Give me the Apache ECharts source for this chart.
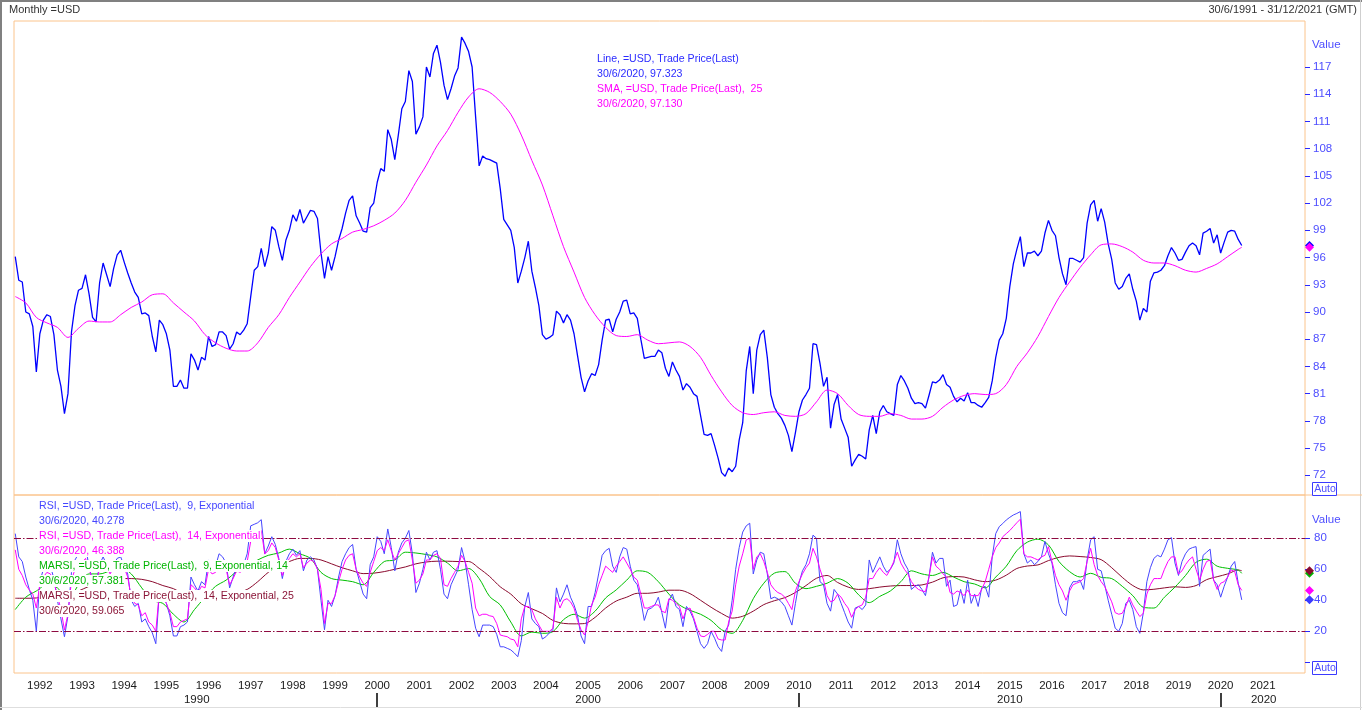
<!DOCTYPE html>
<html>
<head>
<meta charset="utf-8">
<title>Monthly =USD</title>
<script src="https://cdn.jsdelivr.net/npm/echarts@6/dist/echarts.min.js"></script>
<style>
  html, body { margin: 0; padding: 0; background: #fff; }
  #chart { width: 1362px; height: 710px; }
</style>
</head>
<body>
<div id="chart"></div>
<script>
// one value per month, first one plotted at the end of May 1991
const firstYear = 1991;
const firstMonth = 5;
const quarterStep = 3;

// =USD, Trade Price(Last), monthly
const usdLine = [
  96.1, 93.5, 93.3, 90.0, 89.8, 88.4, 83.4, 87.6,
  89.1, 89.7, 89.5, 87.5, 83.6, 81.8, 78.8, 81.0, 87.8, 90.7, 92.4, 92.6,
  94.1, 92.0, 89.4, 88.9, 93.2, 95.4, 94.1, 92.8, 94.8, 96.3, 96.8, 95.5,
  94.3, 93.2, 92.2, 91.6, 89.8, 89.9, 89.6, 87.3, 85.6, 89.1, 88.6, 87.6,
  85.8, 81.8, 81.8, 82.5, 81.6, 81.6, 85.4, 84.7, 83.6, 85.0, 84.7, 87.3,
  86.2, 86.4, 87.8, 87.8, 87.4, 85.9, 86.5, 87.8, 87.5, 88.0, 88.7, 91.7,
  94.6, 95.0, 97.0, 95.0, 96.5, 99.4, 99.0, 97.2, 95.7, 97.9, 99.0, 100.7,
  100.0, 101.3, 99.8, 100.5, 101.2, 101.1, 100.3, 96.5, 93.7, 96.1, 94.6, 96.1,
  97.9, 99.2, 100.9, 102.3, 102.8, 100.6, 99.8, 98.9, 98.8, 101.5, 102.0, 104.3,
  105.8, 105.5, 110.1, 109.0, 106.8, 109.5, 112.4, 113.2, 116.6, 115.4, 109.6, 110.4,
  111.5, 117.0, 115.9, 118.5, 119.4, 117.5, 115.0, 113.4, 114.6, 116.0, 116.9, 120.3,
  119.6, 118.7, 117.0, 111.5, 106.1, 107.2, 106.9, 106.8, 106.6, 106.4, 103.6, 100.2,
  99.6, 99.0, 97.1, 93.2, 94.5, 96.0, 97.8, 94.5, 92.7, 90.7, 87.5, 87.0,
  87.2, 87.5, 90.1, 89.7, 88.8, 89.7, 89.1, 87.6, 85.2, 82.8, 81.2, 82.4,
  83.2, 83.0, 84.2, 86.9, 89.1, 89.2, 87.8, 89.2, 90.0, 91.2, 91.3, 89.8,
  89.9, 89.3, 87.0, 84.9, 85.0, 85.1, 85.1, 85.8, 85.5, 83.8, 82.9, 84.5,
  83.6, 82.9, 81.4, 82.1, 81.7, 81.0, 80.7, 78.6, 76.5, 76.4, 76.6, 75.3,
  73.9, 72.3, 71.9, 72.8, 72.4, 73.0, 75.9, 77.8, 83.5, 86.2, 81.0, 85.8,
  87.5, 88.0, 85.0, 80.9, 79.5, 78.8, 78.3, 77.5, 76.4, 74.6, 76.7, 79.0,
  80.3, 80.9, 81.6, 86.5, 86.4, 84.3, 81.8, 82.8, 77.2, 79.8, 80.9, 78.2,
  77.2, 76.2, 73.0, 73.7, 74.3, 74.1, 73.8, 77.0, 78.6, 76.6, 79.0, 79.7,
  79.0, 78.8, 78.6, 82.0, 83.0, 82.4, 81.6, 80.5, 79.9, 80.0, 79.9, 79.4,
  80.8, 82.3, 82.2, 82.5, 83.1, 82.0, 81.7, 80.7, 80.1, 80.5, 80.2, 81.1,
  80.0, 80.0, 79.7, 79.5, 80.0, 80.6, 82.4, 85.0, 86.9, 87.6, 89.3, 92.8,
  95.3, 96.9, 98.3, 95.0, 96.5, 96.5, 96.7, 96.2, 96.7, 98.7, 100.1, 99.0,
  98.4, 96.0, 94.2, 93.0, 95.9, 95.9, 95.7, 95.5, 96.0, 99.8, 101.8, 102.3,
  100.0, 101.4, 99.9, 97.5, 95.8, 93.2, 92.5, 92.8, 93.7, 94.2, 92.5, 91.2,
  89.1, 90.4, 90.0, 93.4, 94.3, 94.4, 94.6, 95.1, 96.2, 97.1, 96.5, 95.7,
  95.8, 96.6, 97.3, 97.6, 97.3, 96.3, 98.7, 98.9, 99.2, 97.6, 98.5, 96.5,
  97.7, 98.8, 99.0, 98.9, 98.0, 97.323
];

// SMA 25, read every third month
const smaQuarterly = [
  91.7, 91.0, 89.4, 88.8, 88.3, 87.2, 88.2, 89.0, 88.9, 88.9, 89.7, 90.5,
  91.1, 91.9, 92.0, 91.0, 90.0, 89.0, 87.5, 86.6, 86.0, 85.7, 85.7, 86.6,
  88.3, 89.7, 91.6, 93.3, 95.0, 96.4, 97.5, 98.1, 98.8, 99.1, 99.5, 100.1,
  100.9, 102.3, 104.3, 106.2, 108.3, 110.0, 112.0, 113.7, 114.6, 114.2, 113.2, 111.8,
  109.5, 106.7, 104.0, 100.6, 97.2, 94.4, 91.6, 89.7, 88.3, 87.4, 87.3, 87.5,
  86.9, 86.5, 86.6, 86.7, 86.2, 85.0, 83.0, 81.2, 79.7, 78.9, 78.7, 78.9,
  79.0, 78.6, 78.5, 78.8, 80.1, 81.4, 81.0, 79.7, 78.7, 78.5, 78.5, 78.8,
  78.6, 78.2, 78.2, 78.5, 79.5, 80.3, 80.8, 81.0, 80.9, 81.0, 82.0, 84.0,
  85.5, 87.3, 89.5, 91.6, 93.3, 94.9, 96.3, 97.4, 97.5, 97.2, 96.6, 95.7,
  95.4, 95.4, 95.1, 94.6, 94.4, 94.8, 95.3, 96.1, 96.9
];
const smaLast = 97.130;

// RSI 9, exponential, monthly
const rsi9 = [
  83, 68, 65, 55, 47, 40, 20, 52, 60, 63,
  62, 54, 40, 28, 16.5, 30, 58, 66, 70, 70,
  74, 62, 52, 50, 63, 68, 63, 58, 63, 67,
  68, 62, 57, 40, 36, 38, 26, 28, 23, 19,
  12, 45, 43, 38, 30, 17, 17, 23, 24, 26,
  55, 50, 46, 52, 50, 66, 60, 62, 70, 68,
  64, 48, 55, 62, 60, 63, 70, 88, 89, 90,
  92, 70, 75, 81, 76, 67, 54, 65, 70, 73,
  69, 72, 59, 66, 68, 66, 60, 40, 21, 40,
  36, 43, 55, 65, 70, 74, 76, 60, 52, 44,
  41, 63, 68, 81, 78, 70, 86, 74, 59, 71,
  77, 80, 85, 70, 45, 51, 60, 71, 66, 71,
  72, 60, 44, 41, 50, 55, 60, 74, 65, 50,
  34, 22, 16.5, 24, 24, 24, 23, 18, 10, 10,
  9, 8, 6, 3.6, 14, 36, 45, 28, 25, 23,
  15, 16.5, 19, 21, 48, 39, 44, 50, 42, 37,
  30, 17, 12, 36, 36, 45, 57, 69, 72, 73.5,
  62, 58, 68, 74, 73, 62, 53, 50, 40, 27,
  34, 35, 37, 42, 32, 22, 40, 44, 36, 34,
  23, 36, 33, 28, 20, 12, 9, 12, 20, 15.5,
  10, 7, 20, 24, 40, 60, 74, 84, 88, 89.7,
  57, 66, 71, 70, 57, 41, 42, 41, 39, 36,
  30, 24, 38, 51, 59, 63, 70, 82, 80, 52,
  50, 38, 33, 47, 44, 38, 32, 26, 22, 35,
  36, 34, 37, 66, 58, 63, 68, 62, 58, 60,
  64, 79, 70, 64, 60, 47, 49, 50, 47, 43,
  55, 71, 64, 67, 67, 49, 53, 36, 37, 47,
  38, 53, 38, 44, 36, 48, 49, 42, 68, 83,
  87.5, 89.5, 91.8, 93.5, 95, 96, 97.2, 70, 64, 66,
  63, 65, 68, 78, 70, 64, 50, 38, 32, 30,
  48, 52, 52, 53, 47, 66, 79, 81, 60, 59,
  50, 40, 31, 22, 20, 25, 38, 40, 34, 23,
  18.7, 32, 52, 61, 67, 69, 68, 73, 79, 80.4,
  64, 56, 65, 70, 73, 74, 74.6, 49, 69, 71,
  73, 53, 50, 42, 49, 55, 62, 65, 51, 40.278
];

// RSI 14, exponential, monthly
const rsi14 = [
  72.5, 60, 56, 50, 46.7, 44, 35, 50, 55, 58,
  57, 52, 43, 34, 20.8, 31, 53, 60, 64, 64,
  67, 60, 53, 51, 60, 64, 61, 57, 61, 64,
  65, 61, 55, 42, 38, 37, 30, 32, 26, 24,
  20, 45, 42, 38, 32, 23, 23, 26, 27, 28,
  50, 48, 45, 49, 48, 60, 57, 58, 63, 62,
  60, 50, 54, 59, 58, 60, 65, 78, 81, 82,
  85, 70, 72, 77, 74, 66, 56, 63, 67, 70,
  68, 70, 61, 64, 66, 65, 60, 47, 25, 38,
  38, 43, 52, 60, 66, 69, 70, 60, 55, 51,
  49, 58, 65, 72, 74, 72, 79, 72, 66, 70,
  74, 78, 79, 66, 51, 53, 57, 66, 66, 69,
  70, 67, 50, 49, 54, 58, 62, 69, 65, 58,
  51, 35, 30, 31, 31, 30, 29.5, 25, 17.6, 17,
  16.5, 15, 14.4, 10, 28, 36, 36, 34, 28, 24,
  20, 20, 20, 22, 42, 35, 40, 41, 39, 35,
  27, 21, 17.6, 26, 37, 42, 50, 56, 62, 60,
  58, 62, 65, 68, 64, 60, 55, 53, 44, 35,
  35, 36, 37, 37, 33, 32, 41, 40, 38, 36,
  28, 34, 35, 29, 22, 17, 16.5, 18, 20, 20,
  15, 14.4, 14.4, 26, 33, 50, 62, 70, 79, 80,
  60, 68, 70, 65, 58, 50, 47, 45, 44, 42,
  38, 34, 46, 52, 57, 61, 64, 73.5, 68, 60,
  53, 43, 39, 40, 44, 42, 38, 35, 29, 34,
  36, 37, 42, 54, 54, 58, 61, 58, 56, 60,
  65, 71, 64, 60, 57, 52, 49, 47, 46, 45.6,
  55, 68, 62, 60, 57, 55, 45, 44, 46, 45,
  43, 46.7, 43, 43, 43, 47, 52, 60, 68, 74,
  77, 81, 83, 85, 87.5, 90, 92.3, 70, 68, 68,
  67, 66, 68, 69, 74.6, 65, 56, 50, 46, 40,
  46, 50, 51, 52, 54, 65, 73.5, 63, 56, 52,
  49, 44, 39, 32, 31, 31.6, 36, 42, 37, 33,
  29.5, 31.6, 44, 50, 54, 54, 54, 60, 65, 68,
  68, 57, 59, 63, 66, 68, 60, 53, 60, 65,
  66, 53, 47, 51, 52, 55, 59.6, 58.5, 50, 46.388
];

// MARSI 9/14, read every third month
const marsi9Quarterly = [
  34, 42, 46, 50, 48, 40, 50, 57, 57, 59, 61, 57,
  48, 40, 38, 31, 26, 34, 42, 49, 53, 58.5, 62, 66,
  69, 70.5, 73, 70, 67, 58, 54, 53, 52, 50, 58, 65,
  66, 71, 70.5, 69.5, 68, 64, 59, 60.5, 54, 42.4, 37, 26,
  17, 19.5, 18.7, 19.8, 27.5, 31, 28.5, 33, 41.5, 46.7, 53, 59,
  58, 52, 44, 37, 33.5, 31, 27, 21, 18.7, 27, 41, 51,
  57.5, 58.5, 51, 47.5, 49, 51, 54, 51, 43.5, 38.5, 42.5, 46,
  52, 59, 57, 56, 58, 55, 52, 50.5, 48, 55, 62, 72,
  77.5, 79.4, 75.7, 65, 58.5, 55, 57.4, 54.8, 54, 49, 43, 35.5,
  35, 42, 48.5, 56, 64.5, 66.5, 62, 60.6, 59.5
];
const marsi9Last = 57.381;

// MARSI 14/25, read every third month
const marsi14Quarterly = [
  41.3, 41.3, 41.5, 43, 44, 44, 46, 49, 51, 53, 54, 54,
  53.5, 52, 49.5, 47.5, 44, 42, 42, 43, 44, 45, 47, 52,
  58, 62, 65, 67, 67, 66, 63.5, 61, 59, 57.2, 57.5, 58.5,
  60, 61.5, 63.5, 64.7, 65.2, 65.2, 65, 65, 60.6, 55.3, 48.7, 44,
  37.7, 34.5, 31.5, 27, 25.1, 24.8, 25, 29, 35, 39.5, 42, 44.5,
  44.5, 45.3, 46.5, 46.5, 44.3, 40, 35.5, 31.5, 28.5, 29.7, 33, 37.2,
  39.7, 41.7, 45, 49.5, 54.2, 56, 51.5, 48.5, 47, 47.5, 48.5, 49.2,
  49.5, 49.5, 49.9, 51.7, 54.5, 55.3, 55, 53.2, 52, 53, 56.2, 60.5,
  62.1, 62.8, 65.6, 67.7, 68.6, 68.2, 67.6, 66.2, 61, 54.8, 49.5, 46.7,
  47.1, 48, 48.7, 48.3, 49.5, 53.3, 55.2, 57, 59.5
];
const marsi14Last = 59.065;

const yearLabels = [1992, 1993, 1994, 1995, 1996, 1997, 1998, 1999, 2000, 2001,
  2002, 2003, 2004, 2005, 2006, 2007, 2008, 2009, 2010, 2011,
  2012, 2013, 2014, 2015, 2016, 2017, 2018, 2019, 2020, 2021];
const decadeTicks = [2000, 2010, 2020];
const decadeNames = ['1990', '2000', '2010', '2020'];
const decadeLabelAt = [1995.72, 2005.0, 2015.0, 2021.02];
const priceTicks = [72, 75, 78, 81, 84, 87, 90, 93, 96, 99, 102, 105, 108, 111, 114, 117];
const rsiTicks = [0, 20, 40, 60, 80];
const rsiLabels = [20, 40, 60, 80];
const rsiBands = [80, 20];
const lastDate = '30/6/2020';

const FONT = '"Liberation Sans", Arial, sans-serif';
const axisBlue = '#4d4dff';
const orange = '#fbc48c';
const xMin = 1991.387, xMax = 2022.0;

const monthT = i => firstYear + (firstMonth + i) / 12;
const monthly = vals => vals.map((v, i) => [monthT(i), v]);
const quarterly = (vals, last) => vals.map((v, k) => [monthT(k * quarterStep), v])
  .concat([[monthT(usdLine.length - 1), last]]);

const chart = echarts.init(document.getElementById('chart'));

const lineSeries = (name, data, color, width, xi, yi, extra) => Object.assign({
  name: name, type: 'line', data: data, xAxisIndex: xi, yAxisIndex: yi,
  showSymbol: false, symbol: 'none', silent: true, animation: false,
  lineStyle: { color: color, width: width }, z: 3
}, extra || {});

chart.setOption({
  animation: false,
  backgroundColor: '#ffffff',
  grid: [
    { left: 14, top: 21, width: 1291, height: 474, show: true, borderColor: orange, borderWidth: 1 },
    { left: 14, top: 495, width: 1291, height: 178, show: true, borderColor: orange, borderWidth: 1 }
  ],
  xAxis: [
    { gridIndex: 0, type: 'value', min: xMin, max: xMax, show: false },
    {
      gridIndex: 1, type: 'value', min: xMin, max: xMax,
      axisLine: { show: false }, axisTick: { show: false }, splitLine: { show: false },
      axisLabel: {
        customValues: yearLabels, margin: 7, color: '#1a1a1a', fontSize: 11.5, fontFamily: FONT,
        formatter: v => String(Math.round(v))
      }
    },
    {
      gridIndex: 1, type: 'value', min: xMin, max: xMax, position: 'bottom', offset: 20,
      axisLine: { show: false }, splitLine: { show: false },
      axisTick: { show: true, customValues: decadeTicks, length: 14, lineStyle: { color: '#000', width: 1.5 } },
      axisLabel: {
        customValues: decadeLabelAt, margin: 1, color: '#1a1a1a', fontSize: 11.5, fontFamily: FONT,
        formatter: v => {
          let best = 0;
          decadeLabelAt.forEach((d, i) => { if (Math.abs(d - v) < Math.abs(decadeLabelAt[best] - v)) best = i; });
          return decadeNames[best];
        }
      }
    }
  ],
  yAxis: [
    {
      gridIndex: 0, type: 'value', position: 'right', min: 69.83, max: 122.07,
      axisLine: { show: false }, splitLine: { show: false },
      axisTick: { show: true, customValues: priceTicks, length: 5, lineStyle: { color: '#2a2aff' } },
      axisLabel: { customValues: priceTicks, margin: 8, color: axisBlue, fontSize: 11.5, fontFamily: FONT }
    },
    {
      gridIndex: 1, type: 'value', position: 'right', min: -6.9, max: 107.9,
      axisLine: { show: false }, splitLine: { show: false },
      axisTick: { show: true, customValues: rsiTicks, length: 5, lineStyle: { color: '#2a2aff' } },
      axisLabel: { customValues: rsiLabels, margin: 9, color: axisBlue, fontSize: 11.5, fontFamily: FONT }
    }
  ],
  series: [
    lineSeries('Line', monthly(usdLine), '#0000ff', 1.3, 0, 0),
    lineSeries('SMA', quarterly(smaQuarterly, smaLast), '#ff00ff', 1, 0, 0, { smooth: 0.3 }),
    lineSeries('MARSI 14/25', quarterly(marsi14Quarterly, marsi14Last), '#8b0a2e', 1, 1, 1, {
      smooth: 0.3,
      markLine: {
        silent: true, animation: false, symbol: ['none', 'none'], label: { show: false },
        lineStyle: { color: '#8e0a40', type: [7, 2, 1.5, 2], width: 1.2 },
        data: rsiBands.map(v => ({ yAxis: v }))
      }
    }),
    lineSeries('MARSI 9/14', quarterly(marsi9Quarterly, marsi9Last), '#00c000', 1, 1, 1, { smooth: 0.3 }),
    lineSeries('RSI 9', monthly(rsi9), '#4646ff', 1, 1, 1),
    lineSeries('RSI 14', monthly(rsi14), '#ff00ff', 1, 1, 1)
  ]
});

// ---- overlay: frame, headers, legends, last-value diamonds
const g = [];
const txt = (text, x, y, fill, opts) => g.push(Object.assign({
  type: 'text', z: 100, silent: true,
  style: Object.assign({ text: text, x: x, y: y, fill: fill, font: '11px ' + FONT, verticalAlign: 'middle' }, (opts || {}))
}));
const line = (x1, y1, x2, y2, stroke, w) => g.push({
  type: 'line', z: 100, silent: true, shape: { x1: x1, y1: y1, x2: x2, y2: y2 },
  style: { stroke: stroke, lineWidth: w }
});

line(0, 1, 1362, 1, '#808080', 2);
line(1, 0, 1, 710, '#808080', 2);
line(1360.5, 0, 1360.5, 710, '#cfcfcf', 1);
line(0, 707.5, 1362, 707.5, '#dedede', 1);
line(1305, 495, 1362, 495, orange, 1);

txt('Monthly =USD', 9, 10, '#333');
txt('30/6/1991 - 31/12/2021 (GMT)', 1357, 10, '#333', { align: 'right' });
txt('Value', 1312, 45, axisBlue, { font: '11.5px ' + FONT });
txt('Value', 1312, 520, axisBlue, { font: '11.5px ' + FONT });

[[1312, 482], [1312, 661]].forEach(p => {
  g.push({ type: 'rect', z: 100, silent: true, shape: { x: p[0] + 0.5, y: p[1] + 0.5, width: 24, height: 13 },
    style: { fill: '#fff', stroke: '#3a3aff', lineWidth: 1 } });
  txt('Auto', p[0] + 13, p[1] + 7.5, axisBlue, { font: '10.5px ' + FONT, align: 'center' });
});

const fmt = v => v.toFixed(3);
const priceLegend = [
  ['Line, =USD, Trade Price(Last)', '#2b2bff'],
  [lastDate + ', ' + fmt(usdLine[usdLine.length - 1]), '#2b2bff'],
  ['SMA, =USD, Trade Price(Last),  25', '#ff00ff'],
  [lastDate + ', ' + fmt(smaLast), '#ff00ff']
];
priceLegend.forEach((r, i) => txt(r[0], 597, 59.5 + i * 15, r[1], { font: '10.6px ' + FONT }));

const rsiLegend = [
  ['RSI, =USD, Trade Price(Last),  9, Exponential', '#4646ff'],
  [lastDate + ', ' + fmt(rsi9[rsi9.length - 1]), '#4646ff'],
  ['RSI, =USD, Trade Price(Last),  14, Exponential', '#ff00ff'],
  [lastDate + ', ' + fmt(rsi14[rsi14.length - 1]), '#ff00ff'],
  ['MARSI, =USD, Trade Price(Last),  9, Exponential, 14', '#00b400'],
  [lastDate + ', ' + fmt(marsi9Last), '#00b400'],
  ['MARSI, =USD, Trade Price(Last),  14, Exponential, 25', '#8b1538'],
  [lastDate + ', ' + fmt(marsi14Last), '#8b1538']
];
rsiLegend.forEach((r, i) => txt(r[0], 39, 506 + i * 15, r[1], {
  font: '10.6px ' + FONT, backgroundColor: '#fff', lineHeight: 12, padding: [0, 1, 0, 0]
}));

const diamond = (yi, v, color) => {
  const cy = chart.convertToPixel({ yAxisIndex: yi }, v);
  const cx = 1309.5, r = 4.5;
  g.push({ type: 'polygon', z: 101, silent: true,
    shape: { points: [[cx, cy - r], [cx + r, cy], [cx, cy + r], [cx - r, cy]] },
    style: { fill: color } });
};
diamond(0, usdLine[usdLine.length - 1], '#0000ff');
diamond(0, smaLast, '#ff00ff');
diamond(1, marsi9Last, '#00b000');
diamond(1, marsi14Last, '#8b0a2e');
diamond(1, rsi14[rsi14.length - 1], '#ff00ff');
diamond(1, rsi9[rsi9.length - 1], '#3a3aff');

chart.setOption({ graphic: g });
</script>
</body>
</html>
